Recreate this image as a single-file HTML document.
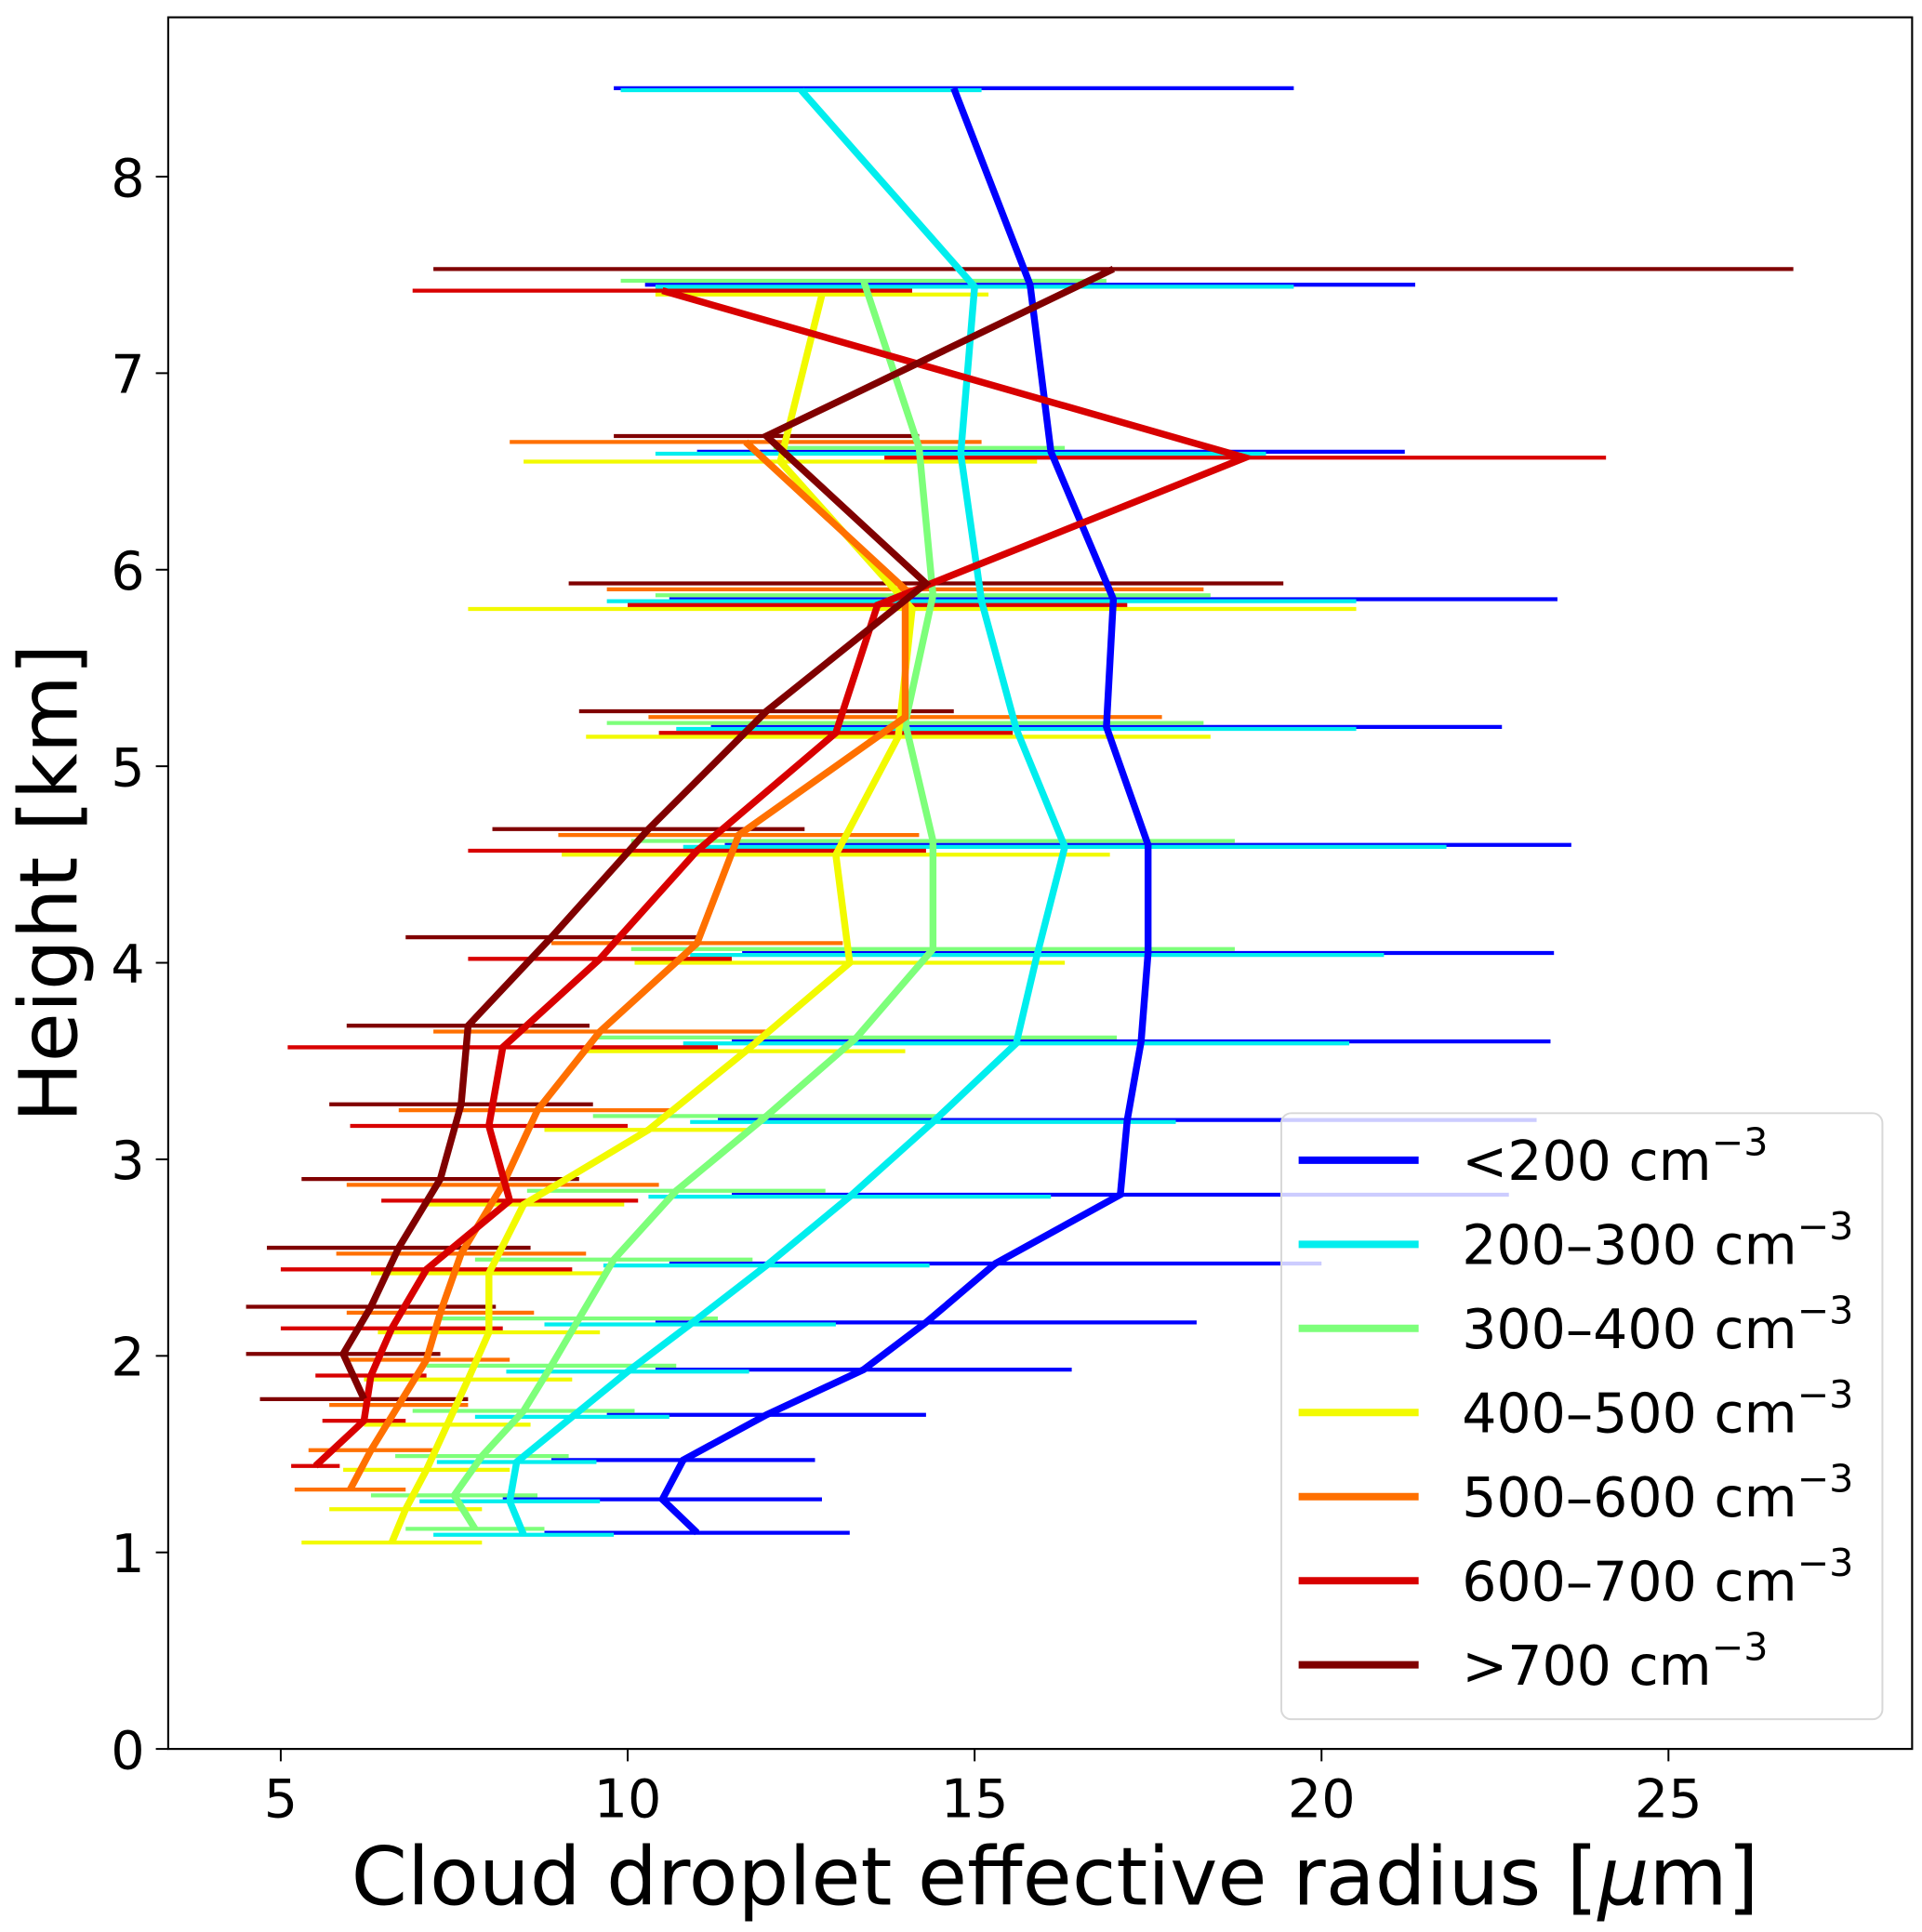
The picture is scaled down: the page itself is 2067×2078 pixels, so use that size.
<!DOCTYPE html>
<html><head><meta charset="utf-8"><style>
html,body{margin:0;padding:0;background:#fff;}
svg{display:block;font-family:"DejaVu Sans","Liberation Sans",sans-serif;}
</style></head><body>
<svg id="chart" width="2067" height="2078" viewBox="0 0 1554 1562" preserveAspectRatio="none" xmlns="http://www.w3.org/2000/svg">
<rect x="0" y="0" width="1554" height="1562" fill="#fff"/>
<g id="plot"></g>
<rect x="136" y="14" width="1410" height="1400" fill="none" stroke="#000" stroke-width="1.6"/>
<g id="axes"></g>
<text x="853" y="1540" font-size="65" text-anchor="middle">Cloud droplet effective radius [<tspan font-style="italic">μ</tspan>m]</text>
<text transform="translate(62,714) rotate(-90)" font-size="65" text-anchor="middle">Height [km]</text>
<g id="legend"></g>
</svg>
<script>
const heights = [1.1,1.27,1.47,1.7,1.93,2.17,2.47,2.82,3.2,3.6,4.05,4.6,5.2,5.85,6.6,7.45,8.45];
const labels = ['<200','200–300','300–400','400–500','500–600','600–700','>700'];
const colors = ['#0000ff','#00eeee','#7dff7a','#f2fa00','#ff7000','#d80000','#800000'];
const offsets = [0,-0.01,0.02,-0.05,0.05,-0.03,0.08];
const blueMean = [11,10.5,10.8,12,13.4,14.3,15.3,17.1,17.2,17.4,17.5,17.5,16.9,17,16.1,15.8,14.7];
const blueErr = [2.2,2.3,1.9,2.3,3,3.9,4.7,5.6,5.9,5.9,5.85,6.1,5.7,6.4,5.1,5.55,4.9];
const cyanMean = [8.5,8.3,8.4,9.2,10,10.9,12,13.2,14.4,15.6,15.9,16.3,15.6,15.1,14.8,15,12.5];
const cyanErr = [1.3,1.3,1.15,1.4,1.75,2.1,2.35,2.9,3.5,4.8,5,5.5,4.9,5.4,4.4,4.6,2.6];
const greenMean = [7.8,7.5,7.9,8.5,8.9,9.3,9.8,10.7,12,13.3,14.4,14.4,14,14.4,14.2,13.4,null];
const greenErr = [1,1.2,1.25,1.6,1.8,2,2,2.15,2.5,3.75,4.35,4.35,4.3,4,2.1,3.5,null];
const yellowMean = [6.6,6.8,7.1,7.4,7.7,8,8,8.5,10.3,11.7,13.2,13,13.9,14.1,12.2,12.8,null];
const yellowErr = [1.3,1.1,1.2,1.2,1.5,1.6,1.7,1.45,1.5,2.3,3.1,3.95,4.5,6.4,3.7,2.4,null];
const orangeMean = [null,6,6.3,6.7,7.1,7.3,7.6,8.2,8.7,9.6,11,11.6,14,14,11.7,null,null];
const orangeErr = [null,0.8,0.9,1,1.2,1.35,1.8,2.25,2,2.4,2.1,2.6,3.7,4.3,3.4,null,null];
const redMean = [null,null,5.5,6.2,6.3,6.6,7.1,8.3,8,8.2,9.6,11,13,13.6,18.9,10.5,null];
const redErr = [null,null,0.35,0.6,0.8,1.6,2.1,1.85,2,3.1,1.9,3.3,2.55,3.6,5.2,3.6,null];
const darkMean = [null,null,null,6.2,5.9,6.3,6.7,7.3,7.6,7.7,8.9,10.3,12,14.3,12,17,null];
const darkErr = [null,null,null,1.5,1.4,1.8,1.9,2,1.9,1.75,2.1,2.25,2.7,5.15,2.2,9.8,null];
const xTicks = [5,10,15,20,25];
const yTicks = [0,1,2,3,4,5,6,7,8];

const means = [blueMean,cyanMean,greenMean,yellowMean,orangeMean,redMean,darkMean];
const errs = [blueErr,cyanErr,greenErr,yellowErr,orangeErr,redErr,darkErr];
const NS='http://www.w3.org/2000/svg';
function X(v){return 227+(v-5)*56.1;}
function Y(v){return 1414-v*158.9;}
function mk(tag,attrs,parent){const e=document.createElementNS(NS,tag);for(const k in attrs)e.setAttribute(k,attrs[k]);parent.appendChild(e);return e;}
const plot=document.getElementById('plot');
const axes=document.getElementById('axes');
const legend=document.getElementById('legend');
const clip=mk('clipPath',{id:'cp'},plot);mk('rect',{x:136,y:14,width:1410,height:1400},clip);
plot.setAttribute('clip-path','url(#cp)');
means.forEach((m,s)=>{
  const g=mk('g',{},plot);
  
  
  m.forEach((v,i)=>{
    if(v===null)return;
    const y=Y(heights[i]+offsets[s]);
    const l=mk('line',{x1:X(v-errs[s][i]),x2:X(v+errs[s][i]),y1:y,y2:y,stroke:colors[s],'stroke-width':3.2},g);
    
    
  });
});
means.forEach((m,s)=>{
  const pts=[];
  m.forEach((v,i)=>{if(v!==null)pts.push(X(v)+','+Y(heights[i]+offsets[s]));});
  const p=mk('polyline',{points:pts.join(' '),fill:'none',stroke:colors[s],'stroke-width':5.6,'stroke-linejoin':'miter'},plot);
  
  
});
xTicks.forEach(t=>{
  mk('line',{x1:X(t),x2:X(t),y1:1414,y2:1424,stroke:'#000','stroke-width':1.5},axes);
  const tx=mk('text',{x:X(t),y:1469,'font-size':43,'text-anchor':'middle'},axes);
  tx.textContent=t;
  
  
});
yTicks.forEach(t=>{
  mk('line',{x1:126,x2:136,y1:Y(t),y2:Y(t),stroke:'#000','stroke-width':1.5},axes);
  const tx=mk('text',{x:117,y:Y(t)+16,'font-size':43,'text-anchor':'end'},axes);
  tx.textContent=t;
  
  
});
mk('rect',{x:1036,y:900,width:486,height:490,rx:8,fill:'#fff','fill-opacity':0.8,stroke:'#d8d8d8','stroke-width':1.5},legend);
labels.forEach((lb,i)=>{
  const y=938+i*68;
  const g=mk('g',{},legend);
  
  
  mk('line',{x1:1050,x2:1147,y1:y,y2:y,stroke:colors[i],'stroke-width':6},g);
  const t=mk('text',{x:1182,y:y+16,'font-size':44},g);
  t.textContent=lb+' cm';
  const sup=mk('tspan',{dy:-20,'font-size':31},t);
  sup.textContent='−3';
});
</script>
</body></html>
